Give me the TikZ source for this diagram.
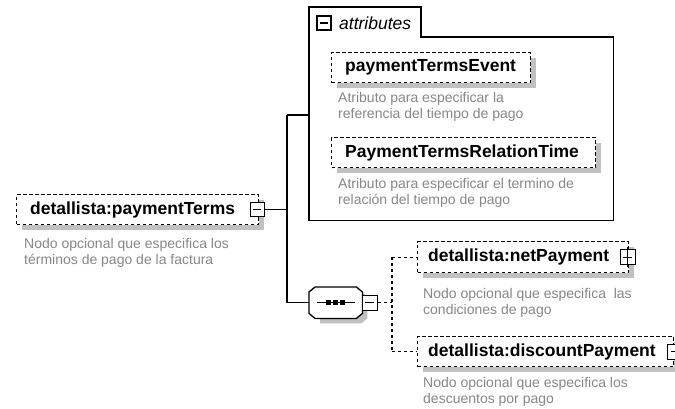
\documentclass[tikz,border=0pt]{standalone}
\usepackage{fontspec}
\setmainfont{Liberation Sans}
\usetikzlibrary{shadows,calc}
\definecolor{descgray}{RGB}{135,135,135}
\definecolor{shgray}{RGB}{192,192,192}
\tikzset{
  elbox/.style={draw, line width=1.3pt, dash pattern=on 3.5pt off 2.5pt, fill=white, inner sep=0pt, anchor=north west,
    drop shadow={shadow xshift=5pt, shadow yshift=-5pt, fill=shgray, opacity=1}},
  nametext/.style={inner sep=0pt, anchor=west, font=\fontsize{17.5}{20}\selectfont\bfseries},
  desctext/.style={inner sep=0pt, anchor=north west, align=left, text=descgray, font=\fontsize{14}{16.5}\selectfont},
  togglebox/.style={draw, line width=1.3pt, fill=white, minimum size=14pt, inner sep=0pt},
  minusbox/.style={togglebox, path picture={\draw[line width=1.3pt] ($(path picture bounding box.west)+(3pt,0)$) -- ($(path picture bounding box.east)+(-3pt,0)$);}},
  plusbox/.style={togglebox, path picture={\draw[line width=1.3pt] ($(path picture bounding box.west)+(3pt,0)$) -- ($(path picture bounding box.east)+(-3pt,0)$);}},
  conn/.style={line width=1.3pt},
  dconn/.style={line width=1.3pt, dash pattern=on 3pt off 3pt},
}
\begin{document}
\begin{tikzpicture}[x=1pt,y=-1pt]
\useasboundingbox[fill=white] (0,0) rectangle (675,408);

% ---------- main element ----------
\node[elbox, minimum width=242pt, minimum height=30pt] (main) at (16,194) {};
\node[nametext] (mainT) at ($(main.west)+(14,0)$) {detallista:paymentTerms};
\node[minusbox] (mainMinus) at ($(main.east)+(-2,0)$) {};
\node[desctext] (mainD) at (24,238) {Nodo opcional que especifica los\\términos de pago de la factura};

% ---------- attributes group ----------
\node[minimum width=304pt, minimum height=183pt, inner sep=0pt, anchor=north west] (attr) at (309,37) {};
\coordinate (tabR) at (421,37);
\draw[line width=1.3pt] (attr.south west) -- (attr.west |- 0,7) -- (tabR |- 0,7) -- (tabR) -- (attr.north east) -- (attr.south east) -- cycle;
\node[minusbox] (attrMinus) at (324,23) {};
\node[inner sep=0pt, anchor=west, font=\fontsize{17.5}{20}\selectfont\itshape] (attrT) at (339,23) {attributes};

\node[elbox, minimum width=199pt, minimum height=30pt] (pte) at (331,52) {};
\node[nametext] (pteT) at ($(pte.west)+(14,0)$) {paymentTermsEvent};
\node[desctext] (pteD) at (338,92) {Atributo para especificar la\\referencia del tiempo de pago};

\node[elbox, minimum width=264pt, minimum height=30pt] (ptrt) at (331,137) {};
\node[nametext] (ptrtT) at ($(ptrt.west)+(14,0)$) {PaymentTermsRelationTime};
\node[desctext] (ptrtD) at (338,178) {Atributo para especificar el termino de\\relación del tiempo de pago};

% ---------- sequence compositor ----------
\node[minimum width=53pt, minimum height=31pt, inner sep=0pt, anchor=north west] (seq) at (309,287) {};
\fill[shgray] ($(seq.north west)+(11,5)$) -- ($(seq.north east)+(-1,5)$) -- ($(seq.north east)+(5,10)$) -- ($(seq.south east)+(5,0)$) -- ($(seq.south east)+(-1,5)$) -- ($(seq.south west)+(11,5)$) -- cycle;
\draw[line width=1.3pt, fill=white] ($(seq.north west)+(6,0)$) -- ($(seq.north east)+(-6,0)$) -- ($(seq.north east)+(0,5)$) -- ($(seq.south east)+(0,-5)$) -- ($(seq.south east)+(-6,0)$) -- ($(seq.south west)+(6,0)$) -- ($(seq.south west)+(0,-5)$) -- ($(seq.north west)+(0,5)$) -- cycle;
\draw[line width=1.4pt] ($(seq.west)+(8,0)$) -- ($(seq.east)+(-7,0)$);
\foreach \dx in {-7,0,7} \fill ($(seq.center)+(\dx-2.4,-2.4)$) rectangle ++(4.8,4.8);
\node[minusbox, minimum size=15pt] (seqMinus) at ($(seq.east)+(7.5,0)$) {};

% ---------- children ----------
\node[elbox, minimum width=211pt, minimum height=31pt] (net) at (417,241) {};
\node[nametext] (netT) at ($(net.west)+(11,0)$) {detallista:netPayment};
\node[plusbox, minimum size=15pt] (netPlus) at ($(net.east)+(-1.5,0)$) {};
\draw[line width=1.3pt] ($(netPlus.north)+(0,-2)$) -- ($(netPlus.south)+(0,2)$);
\node[desctext] (netD) at (423,288) {Nodo opcional que especifica\ \ las\\condiciones de pago};

\node[elbox, minimum width=256pt, minimum height=30pt] (disc) at (417,336) {};
\node[nametext] (discT) at ($(disc.west)+(11,0)$) {detallista:discountPayment};
\node[plusbox, minimum size=15pt] (discPlus) at ($(disc.east)+(1,0)$) {};
\draw[line width=1.3pt] ($(discPlus.north)+(0,-2)$) -- ($(discPlus.south)+(0,2)$);
\node[desctext] (discD) at (423,377) {Nodo opcional que especifica los\\descuentos por pago};

% ---------- connectors ----------
\coordinate (j) at (287,0);
\coordinate (jt) at (j |- 0,115);
\coordinate (jb) at (j |- seq.west);
\draw[conn] (mainMinus.east) -- (mainMinus.east -| j);
\draw[conn] (jt) -- (jb);
\draw[conn] (jt) -- (jt -| attr.west);
\draw[conn] (jb) -- (seq.west);

\coordinate (dj) at (392,0);
\coordinate (dt) at (dj |- net.west);
\coordinate (db) at (dj |- disc.west);
\draw[dconn] (seqMinus.east) -- (seqMinus.east -| dj);
\draw[dconn] (dt) -- (db);
\draw[dconn] (dt) -- (net.west);
\draw[dconn] (db) -- (disc.west);
\end{tikzpicture}
\end{document}
